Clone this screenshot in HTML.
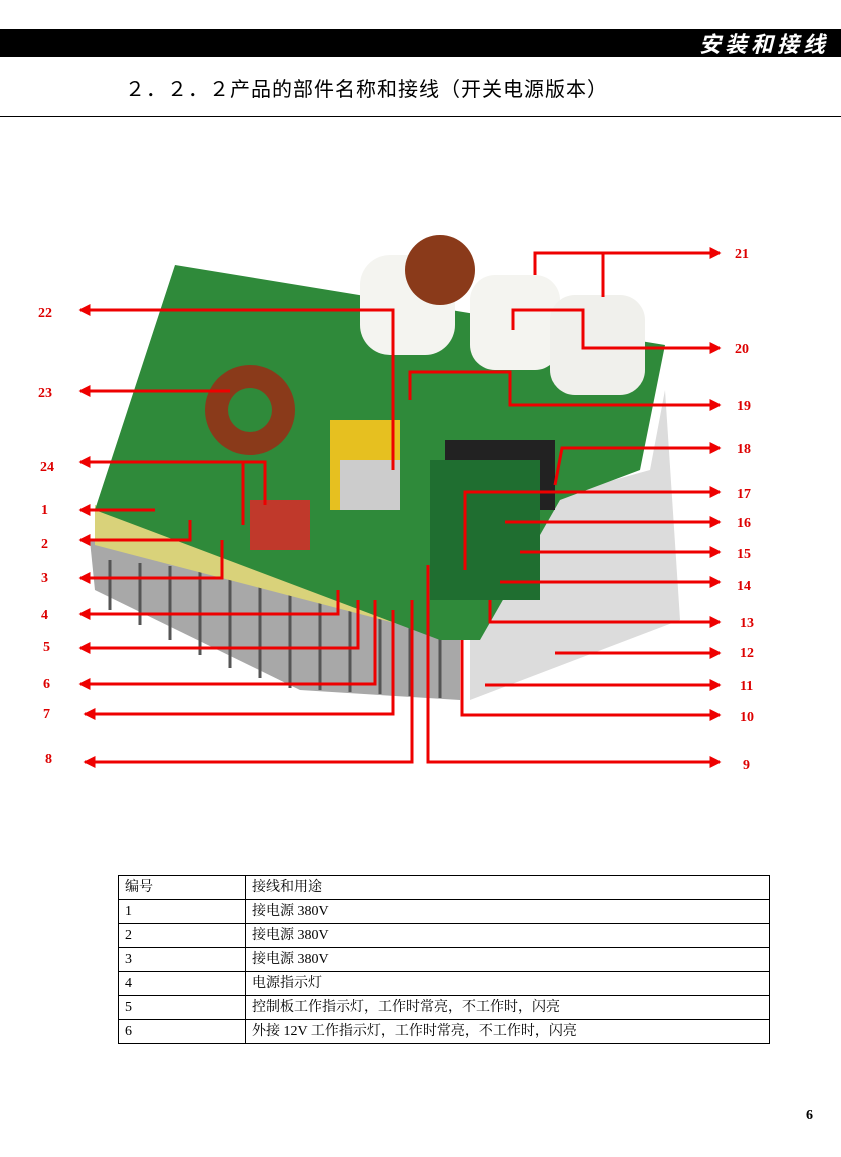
<!DOCTYPE html>
<html><head><meta charset="utf-8"><style>
body{margin:0;width:841px;height:1157px;background:#fff;position:relative;overflow:hidden;font-family:"Liberation Serif","Noto Serif CJK SC",serif}
.bar{position:absolute;left:0;top:29px;width:841px;height:28px;background:#000}
.bar span{position:absolute;right:12px;top:0;color:#fff;font:italic bold 22px "Noto Sans CJK SC",sans-serif;letter-spacing:4px;line-height:28px}
.title{position:absolute;left:125px;top:73px;font:20px "Noto Sans CJK SC",sans-serif;letter-spacing:1px}
.hr{position:absolute;left:0;top:116px;width:841px;height:1px;background:#000}
table{position:absolute;left:118px;top:875px;width:652px;border-collapse:collapse;font-size:14px}
td{border:1px solid #000;height:23px;padding:0 6px;line-height:22px}
.pn{position:absolute;right:28px;top:1108px;font:bold 14px "Liberation Serif",serif}
</style></head><body>
<div class="bar"><span>安装和接线</span></div>
<div class="title">２．２．２产品的部件名称和接线（开关电源版本）</div>
<div class="hr"></div>
<svg width="841" height="1157" style="position:absolute;left:0;top:0">
<defs><marker id="a" markerWidth="4" markerHeight="4" refX="3.5" refY="2" orient="auto" markerUnits="strokeWidth"><path d="M0,0L4,2L0,4z" fill="#e00"/></marker></defs>
<polygon points="470,520 650,470 665,390 680,620 470,700" fill="#dcdcdc"/>
<polygon points="90,540 460,585 460,700 300,690 95,590" fill="#a8a8a8"/>
<g stroke="#555" stroke-width="3">
<line x1="110" y1="560" x2="110" y2="610"/><line x1="140" y1="563" x2="140" y2="625"/><line x1="170" y1="566" x2="170" y2="640"/><line x1="200" y1="570" x2="200" y2="655"/><line x1="230" y1="573" x2="230" y2="668"/><line x1="260" y1="576" x2="260" y2="678"/><line x1="290" y1="579" x2="290" y2="688"/><line x1="320" y1="582" x2="320" y2="690"/><line x1="350" y1="585" x2="350" y2="692"/><line x1="380" y1="588" x2="380" y2="694"/><line x1="410" y1="590" x2="410" y2="696"/><line x1="440" y1="592" x2="440" y2="698"/></g>
<polygon points="95,505 440,600 460,640 95,545" fill="#d9d27a"/>
<polygon points="175,265 665,345 640,470 560,500 480,640 440,640 95,510" fill="#2f8a3a"/>
<rect x="360" y="255" width="95" height="100" rx="30" fill="#f4f4f0"/>
<rect x="470" y="275" width="90" height="95" rx="25" fill="#f4f4f0"/>
<rect x="550" y="295" width="95" height="100" rx="25" fill="#f0f0ec"/>
<circle cx="440" cy="270" r="35" fill="#8a3a1a"/>
<circle cx="250" cy="410" r="45" fill="#8a3a1a"/><circle cx="250" cy="410" r="22" fill="#2f8a3a"/>
<rect x="330" y="420" width="70" height="90" fill="#e6c020"/>
<rect x="445" y="440" width="110" height="70" fill="#222"/>
<rect x="340" y="460" width="60" height="50" fill="#ccc"/>
<rect x="250" y="500" width="60" height="50" fill="#c0392b"/>
<rect x="430" y="460" width="110" height="140" fill="#1f6e30"/>
<g fill="none" stroke="#e00" stroke-width="3">
<polyline points="535,275 535,253 720,253" marker-end="url(#a)"/><polyline points="603,297 603,253"/>
<polyline points="513,330 513,310 583,310 583,348 720,348" marker-end="url(#a)"/>
<polyline points="410,400 410,372 510,372 510,405 720,405" marker-end="url(#a)"/>
<polyline points="555,485 562,448 720,448" marker-end="url(#a)"/>
<polyline points="465,570 465,492 720,492" marker-end="url(#a)"/>
<polyline points="505,522 720,522" marker-end="url(#a)"/>
<polyline points="520,552 720,552" marker-end="url(#a)"/>
<polyline points="500,582 720,582" marker-end="url(#a)"/>
<polyline points="490,600 490,622 720,622" marker-end="url(#a)"/>
<polyline points="555,653 720,653" marker-end="url(#a)"/>
<polyline points="485,685 720,685" marker-end="url(#a)"/>
<polyline points="462,640 462,715 720,715" marker-end="url(#a)"/>
<polyline points="428,565 428,762 720,762" marker-end="url(#a)"/>
<polyline points="412,600 412,762 85,762" marker-end="url(#a)"/>
<polyline points="393,610 393,714 85,714" marker-end="url(#a)"/>
<polyline points="375,600 375,684 80,684" marker-end="url(#a)"/>
<polyline points="358,600 358,648 80,648" marker-end="url(#a)"/>
<polyline points="338,590 338,614 80,614" marker-end="url(#a)"/>
<polyline points="222,540 222,578 80,578" marker-end="url(#a)"/>
<polyline points="190,520 190,540 80,540" marker-end="url(#a)"/>
<polyline points="155,510 80,510" marker-end="url(#a)"/>
<polyline points="265,505 265,462 80,462" marker-end="url(#a)"/><polyline points="243,525 243,462"/>
<polyline points="230,391 80,391" marker-end="url(#a)"/>
<polyline points="393,470 393,310 80,310" marker-end="url(#a)"/>
</g>
<g fill="#d00" font-family="Liberation Serif" font-weight="bold" font-size="14">
<text x="735" y="258">21</text><text x="735" y="353">20</text><text x="737" y="410">19</text><text x="737" y="453">18</text><text x="737" y="498">17</text><text x="737" y="527">16</text><text x="737" y="558">15</text><text x="737" y="590">14</text><text x="740" y="627">13</text><text x="740" y="657">12</text><text x="740" y="690">11</text><text x="740" y="721">10</text><text x="743" y="769">9</text>
<text x="38" y="317">22</text><text x="38" y="397">23</text><text x="40" y="471">24</text><text x="41" y="514">1</text><text x="41" y="548">2</text><text x="41" y="582">3</text><text x="41" y="619">4</text><text x="43" y="651">5</text><text x="43" y="688">6</text><text x="43" y="718">7</text><text x="45" y="763">8</text>
</g>
</svg>
<table>
<tr><td style="width:114px">编号</td><td>接线和用途</td></tr>
<tr><td>1</td><td>接电源 380V</td></tr>
<tr><td>2</td><td>接电源 380V</td></tr>
<tr><td>3</td><td>接电源 380V</td></tr>
<tr><td>4</td><td>电源指示灯</td></tr>
<tr><td>5</td><td>控制板工作指示灯，工作时常亮，不工作时，闪亮</td></tr>
<tr><td>6</td><td>外接 12V 工作指示灯，工作时常亮，不工作时，闪亮</td></tr>
</table>
<div class="pn">6</div>
</body></html>
